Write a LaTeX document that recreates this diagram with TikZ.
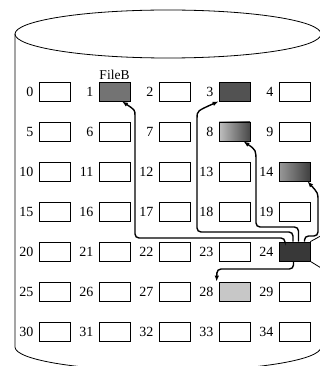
\documentclass[tikz,border=0pt]{standalone}
\usepackage{fontspec}
\setmainfont{Liberation Serif}
\usetikzlibrary{arrows.meta}
\begin{document}
\begin{tikzpicture}[x=1pt,y=-1pt,
  blk/.style={draw,line width=0.8pt,minimum width=31pt,minimum height=19pt,inner sep=0pt},
  lbl/.style={anchor=east,inner sep=0pt,font=\fontsize{14}{14}\selectfont},
  link/.style={line width=1.4pt,rounded corners=4pt},
  arr/.style={link,-{Latex[length=6pt,width=4.5pt]}},
  stub/.style={line width=0.8pt},
  cyl/.style={line width=0.8pt},
  cell1/.style={fill=black!55},
  cell3/.style={fill=black!68},
  cell8/.style={left color=black!25,right color=black!72},
  cell14/.style={left color=black!40,right color=black!75},
  cell24/.style={fill=black!78},
  cell28/.style={fill=black!22}]
\clip (0,0) rectangle (320,366);
\useasboundingbox (0,0) rectangle (320,366);
% cylinder
\draw[cyl] (168,34) ellipse [x radius=153, y radius=24];
\draw[cyl] (15,34) -- (15,347) arc[start angle=180,end angle=0,x radius=153,y radius=24] -- (321,34);
% blocks
\foreach \r in {0,...,6} {
  \foreach \c in {0,...,4} {
    \pgfmathtruncatemacro\n{5*\r+\c}
    \node[blk,cell\n/.try] (b\n) at (54.5+60*\c, 91.5+40*\r) {};
    \node[lbl] (l\n) at ([xshift=-5pt]b\n.west) {\n};
  }
}
\node[inner sep=0pt,anchor=south,font=\fontsize{13.5}{13.5}\selectfont] (fname) at ([yshift=2pt]b1.north) {FileB};
% links from block 24
\draw[arr] ([xshift=-9.5pt]b24.north) -- (285,238) -- (135,238) -- (135,120) .. controls (135,110) .. ([xshift=7.5pt]b1.south);
\draw[arr] ([xshift=-1.5pt]b24.north) -- (293,232) -- (197,232) -- (197,122) .. controls (197,111) .. (b3.south west);
\draw[arr] ([xshift=4pt]b24.north) -- (298.5,227) -- (256,227) -- (256,166) .. controls (256,150) .. ([xshift=9pt]b8.south);
\draw[arr] ([xshift=10pt]b24.north) -- (304.5,236) -- (318,236) -- (318,205) .. controls (318,193) .. ([xshift=13pt]b14.south);
\draw[arr] ([xshift=-1pt]b24.south) -- (293.5,269) -- (217,269) -- ([xshift=-2pt]b28.north west);
\coordinate (d1) at (326,233);
\coordinate (d2) at (326,271);
\draw[stub] (b24.north east) -- (d1);
\draw[stub] (b24.south east) -- (d2);
\end{tikzpicture}
\end{document}
